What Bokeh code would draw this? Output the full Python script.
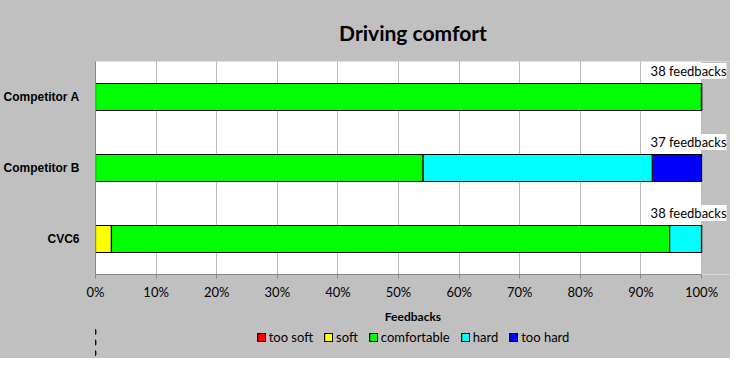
from bokeh.plotting import figure
from bokeh.layouts import column
from bokeh.models import (FactorRange, Range1d, FixedTicker, NumeralTickFormatter, ColumnDataSource,
                          LabelSet, Legend, BoxAnnotation)
from bokeh.core.properties import value
from bokeh.embed import file_html
from bokeh.resources import INLINE

categories = ["CVC6", "Competitor B", "Competitor A"]
too_soft = [0, 0, 0]
soft = [1, 0, 0]
comfortable = [35, 20, 38]
hard = [2, 14, 0]
too_hard = [0, 3, 0]
series_names = ["too soft", "soft", "comfortable", "hard", "too hard"]
colors = ["#FF0000", "#FFFF00", "#00FF00", "#00FFFF", "#0000FF"]
label_texts = ["38 feedbacks", "37 feedbacks", "38 feedbacks"]
x_ticks = [0, 0.1, 0.2, 0.3, 0.4, 0.5, 0.6, 0.7, 0.8, 0.9, 1.0]

counts = [too_soft, soft, comfortable, hard, too_hard]
totals = [sum(c[i] for c in counts) for i in range(len(categories))]
data = {"cat": categories}
for name, c in zip(series_names, counts):
    data[name] = [v / t for v, t in zip(c, totals)]
data["label"] = label_texts
data["xr"] = [1.0] * len(categories)
src = ColumnDataSource(data)

GRAY = "#C0C0C0"
W = 730
p = figure(width=W, height=326, output_backend="svg", toolbar_location=None,
           y_range=FactorRange(factors=categories, range_padding=0),
           x_range=Range1d(0, 636 / 607),
           title="Driving comfort")
p.min_border_left = 94
p.min_border_right = 0
p.min_border_top = 50
p.min_border_bottom = 49
p.border_fill_color = GRAY
p.background_fill_color = "white"
p.outline_line_color = None

p.title.align = "center"
p.title.text_font = "Lato"
p.title.text_font_size = "21px"
p.title.text_font_style = "bold"
p.title.text_color = "black"
p.title.standoff = 34

p.add_layout(BoxAnnotation(left=1.0, fill_color=GRAY, fill_alpha=1.0, line_color=None, level="underlay"))

rs = p.hbar_stack(series_names, y="cat", height=0.38, source=src,
                  color=colors, line_color="black", line_width=1.2)

labels = LabelSet(x="xr", y="cat", text="label", source=src, x_offset=25, y_offset=26,
                  text_align="right", text_baseline="middle",
                  text_font=value("Lato"), text_font_size="13px",
                  background_fill_color="white", text_color="black")
p.add_layout(labels)

p.xaxis.ticker = FixedTicker(ticks=x_ticks)
p.xaxis.bounds = (0, 1)
p.xaxis.formatter = NumeralTickFormatter(format="0%")
p.xaxis.axis_label = "Feedbacks"
p.xaxis.axis_label_text_font = "Lato"
p.xaxis.axis_label_text_font_style = "bold"
p.xaxis.axis_label_text_font_size = "12px"
p.xaxis.axis_label_text_color = "black"
p.xaxis.axis_label_standoff = 6
p.xaxis.major_label_text_font = "Lato"
p.xaxis.major_label_text_font_size = "13px"
p.xaxis.major_label_text_color = "black"
p.xaxis.axis_line_color = "#868686"
p.xaxis.major_tick_line_color = "#868686"
p.xaxis.major_tick_out = 4
p.xaxis.major_tick_in = 0
p.xaxis.minor_tick_line_color = None

p.yaxis.major_label_text_font = "Liberation Sans"
p.yaxis.major_label_text_font_style = "bold"
p.yaxis.major_label_text_font_size = "12px"
p.yaxis.major_label_text_color = "black"
p.yaxis.axis_line_color = "#868686"
p.yaxis.major_tick_line_color = None
p.yaxis.major_label_standoff = 10

p.xgrid.grid_line_color = "#B8B8B8"
p.xgrid.bounds = (0, 1)
p.ygrid.grid_line_color = None

# legend strip below the chart (same series, drawn out of view so only the legend shows)
p2 = figure(width=W, height=32, output_backend="svg", toolbar_location=None,
            y_range=FactorRange(factors=categories), x_range=Range1d(5, 6))
p2.min_border = 0
p2.border_fill_color = GRAY
p2.background_fill_color = GRAY
p2.background_fill_alpha = 0
p2.outline_line_color = None
p2.axis.visible = False
p2.grid.visible = False
rs2 = p2.hbar_stack(series_names, y="cat", height=0.38, source=src,
                    color=colors, line_color="black", line_width=1.2)
legend = Legend(items=[(n, [r]) for n, r in zip(series_names, rs2)],
                orientation="horizontal", location="top_center")
legend.background_fill_alpha = 0
legend.border_line_color = None
legend.label_text_font = "Lato"
legend.label_text_font_size = "13px"
legend.label_text_color = "black"
legend.glyph_width = 10
legend.glyph_height = 10
legend.spacing = 10
legend.label_standoff = 3
legend.margin = 3
legend.padding = 2
p2.add_layout(legend)

layout = column(p, p2, spacing=0, styles={"background-color": GRAY})
open("out.html", "w").write(file_html(layout, INLINE))
